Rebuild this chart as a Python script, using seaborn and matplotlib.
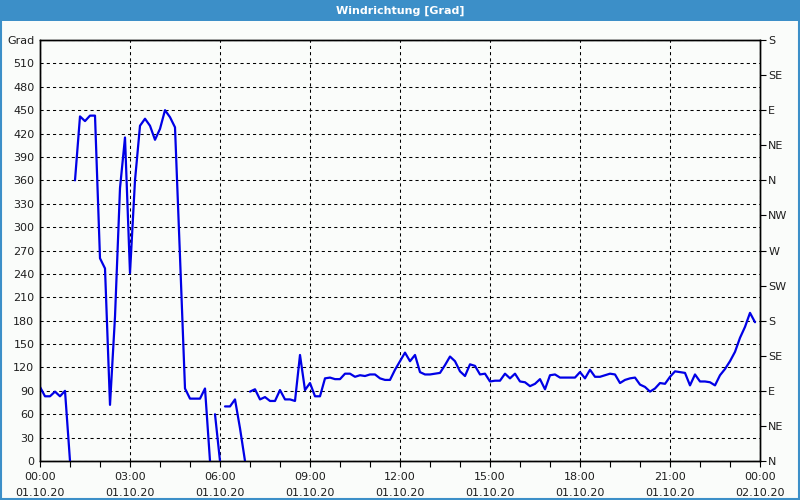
import numpy as np
import pandas as pd
import matplotlib
matplotlib.use("Agg")
import matplotlib.pyplot as plt
import seaborn as sns
from matplotlib.patches import Rectangle
from matplotlib.ticker import MultipleLocator

# ---------------- data ----------------
step_minutes = 10
seg_starts = ["00:00", "01:10", "05:50", "06:10", "07:00"]
seg1 = [95, 83, 83, 89, 83, 90, 0]
seg2 = [360, 442, 436, 443, 443, 260, 247, 72, 185, 350,
        415, 241, 360, 430, 439, 430, 412, 426, 450, 441,
        428, 262, 93, 80, 80, 80, 93, 0]
seg3 = [60, 0]
seg4 = [70, 70, 79, 42, 0]
seg5 = [89, 92, 79, 82, 77, 77, 91, 79, 79, 77,
        136, 91, 100, 83, 83, 106, 107, 105, 105, 112,
        112, 108, 110, 109, 111, 111, 106, 104, 104, 117,
        128, 139, 128, 136, 114, 111, 111, 112, 113, 123,
        134, 128, 115, 109, 124, 122, 111, 112, 102, 103,
        103, 112, 106, 112, 102, 101, 96, 99, 105, 92,
        110, 111, 107, 107, 107, 107, 114, 106, 117, 108,
        108, 110, 112, 111, 100, 104, 106, 107, 98, 95,
        89, 93, 100, 99, 108, 115, 114, 113, 97, 111,
        102, 102, 101, 97, 110, 118, 128, 140, 158, 172,
        190, 178]
segments = [seg1, seg2, seg3, seg4, seg5]

x_tick_times = ["00:00", "03:00", "06:00", "09:00", "12:00",
                "15:00", "18:00", "21:00", "00:00"]
x_tick_dates = ["01.10.20"] * 8 + ["02.10.20"]
y_tick_values = list(range(0, 541, 30))
y_unit_label = "Grad"
compass_labels = ["N", "NE", "E", "SE", "S", "SW", "W", "NW",
                  "N", "NE", "E", "SE", "S"]
title = "Windrichtung [Grad]"

# ---------------- build table ----------------
rows = []
for k, (start, vals) in enumerate(zip(seg_starts, segments)):
    h, m = map(int, start.split(":"))
    t0 = h + m / 60.0
    for i, v in enumerate(vals):
        rows.append({"seg": k, "hour": t0 + i * step_minutes / 60.0, "grad": v})
df = pd.DataFrame(rows)

# ---------------- style ----------------
sns.set_style("white")
plt.rcParams["font.family"] = ["DejaVu Sans"]
bg = "#fafcfa"
bar_blue = "#3c8fc8"
text_col = "#1e1e1e"

fig = plt.figure(figsize=(8, 5), dpi=100)
fig.patch.set_facecolor(bg)

# title bar + frame
fig.add_artist(Rectangle((0, 1 - 21 / 500), 1, 21 / 500, transform=fig.transFigure,
                         facecolor=bar_blue, edgecolor="none", zorder=0))
fig.add_artist(Rectangle((0.001, 0.002), 0.998, 0.996, transform=fig.transFigure,
                         facecolor="none", edgecolor=bar_blue, lw=1.5, zorder=0))
fig.text(0.5, 1 - 11 / 500, title, ha="center", va="center", color="white",
         fontsize=8, fontweight="bold")

ax = fig.add_axes([40 / 800, 39 / 500, 720 / 800, 421 / 500])
ax.set_facecolor(bg)

sns.lineplot(data=df, x="hour", y="grad", units="seg", estimator=None,
             color="#0000e6", lw=1.6, ax=ax, legend=False, zorder=3)

ax.set_xlim(0, 24)
ax.set_ylim(0, 540)
ax.set_xlabel("")
ax.set_ylabel("")

ax.set_xticks(range(0, 25, 3))
ax.set_xticklabels([f"{t}\n{d}" for t, d in zip(x_tick_times, x_tick_dates)],
                   fontsize=8, color=text_col, linespacing=1.7)
ax.xaxis.set_minor_locator(MultipleLocator(1))

ax.set_yticks(y_tick_values)
ylabels = [str(v) for v in y_tick_values]
ylabels[-1] = y_unit_label
ax.set_yticklabels(ylabels, fontsize=8, color=text_col)

ax.grid(True, which="major", color="black", linestyle=(0, (3, 3)), lw=0.75)
ax.tick_params(axis="x", which="both", direction="out", length=4, width=0.8,
               color="black", pad=4, bottom=True)
ax.tick_params(axis="y", which="both", length=0, pad=4, left=True)

for sp in ax.spines.values():
    sp.set_visible(True)
    sp.set_color("black")
    sp.set_linewidth(1)

ax2 = ax.twinx()
ax2.set_ylim(0, 540)
ax2.set_yticks(range(0, 541, 45))
ax2.set_yticklabels(compass_labels, fontsize=8, color=text_col)
ax2.tick_params(axis="y", direction="out", length=4, width=0.8, color="black", pad=2)
for sp in ax2.spines.values():
    sp.set_visible(True)
    sp.set_color("black")
    sp.set_linewidth(1)

fig.savefig("out.png", dpi=100, facecolor=bg)
